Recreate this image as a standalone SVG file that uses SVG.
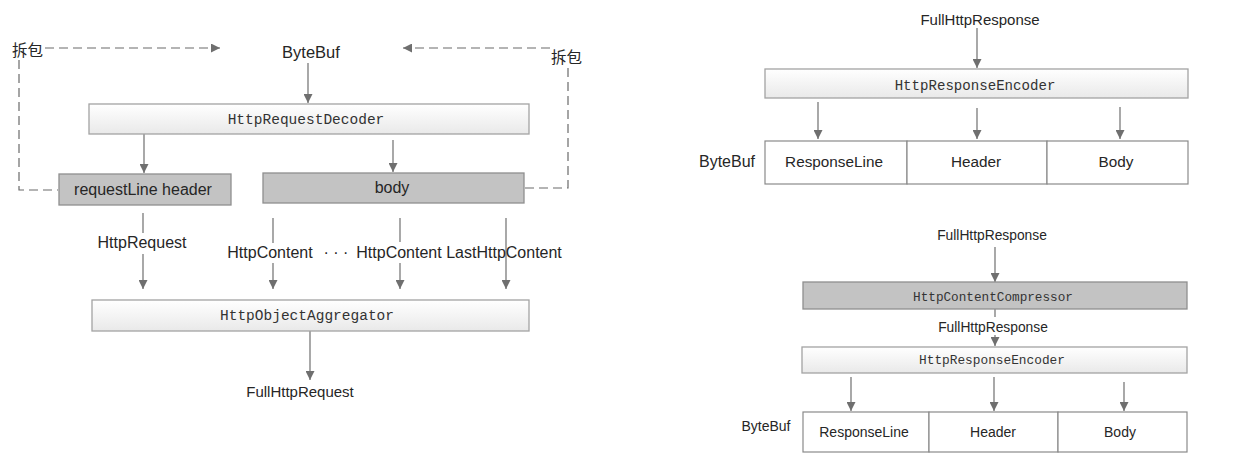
<svg xmlns="http://www.w3.org/2000/svg" width="1239" height="473" viewBox="0 0 1239 473">
<style>
.t{font-family:"Liberation Sans",Arial,sans-serif;fill:#262626;text-anchor:middle}
.m{font-family:"Liberation Mono","Courier New",monospace;fill:#333;text-anchor:middle}
.zh{font-family:"Liberation Sans","Noto Sans CJK SC",sans-serif;fill:#262626;font-size:15.5px}
.light{fill:url(#g);stroke:#a3a3a3;stroke-width:1.3}
.dark{fill:#c3c3c3;stroke:#8f8f8f;stroke-width:1.3}
.cell{fill:#fff;stroke:#8a8a8a;stroke-width:1.2}
.c{fill:none;stroke:#6f6f6f;stroke-width:1.2}
.a{fill:none;stroke:#6f6f6f;stroke-width:1.2;marker-end:url(#ah)}
.d{fill:none;stroke:#6a6a6a;stroke-width:1.2;stroke-dasharray:9,5}
.da{fill:none;stroke:#6a6a6a;stroke-width:1.2;stroke-dasharray:9,5;marker-end:url(#ah)}
</style>
<defs>
<linearGradient id="g" x1="0" y1="0" x2="0" y2="1">
<stop offset="0" stop-color="#ffffff"/>
<stop offset="1" stop-color="#e9e9e9"/>
</linearGradient>
<marker id="ah" markerUnits="userSpaceOnUse" markerWidth="10" markerHeight="9" refX="9" refY="4.5" orient="auto">
<path d="M0,0 L9,4.5 L0,9 z" fill="#6f6f6f"/>
</marker>
</defs>
<rect width="1239" height="473" fill="#fff"/>

<g id="connectors">
<path class="da" d="M45,48 H220"/>
<path class="da" d="M550,48 H403"/>
<path class="d" d="M19,60 V190 H58"/>
<path class="d" d="M568,68 V188 H524"/>
<path class="a" d="M308,63 V103"/>
<path class="a" d="M144,134 V173"/>
<path class="a" d="M393,140 V172"/>
<path class="c" d="M143,213 V233"/>
<path class="a" d="M143,254 V289"/>
<path class="c" d="M273,218 V243"/>
<path class="a" d="M273,263 V289"/>
<path class="c" d="M400,218 V242"/>
<path class="a" d="M400,263 V289"/>
<path class="a" d="M506,218 V289"/>
<path class="a" d="M310,331 V380"/>
<path class="a" d="M977,28 V68"/>
<path class="a" d="M818,102 V139"/>
<path class="a" d="M977,108 V139"/>
<path class="a" d="M1120,107 V139"/>
<path class="a" d="M995,247 V282"/>
<path class="c" d="M995,309 V317"/>
<path class="a" d="M995,335 V346"/>
<path class="a" d="M851,377 V411"/>
<path class="a" d="M994,377 V411"/>
<path class="a" d="M1124,382 V411"/>
</g>

<g id="labels-left">
<text class="zh" x="12" y="56">拆包</text>
<text class="zh" x="551" y="63">拆包</text>
<text class="t" x="311" y="58" font-size="16.5">ByteBuf</text>
<text class="t" x="142" y="248" font-size="16">HttpRequest</text>
<text class="t" x="270" y="258" font-size="16">HttpContent</text>
<text class="t" x="336" y="258" font-size="16">· · ·</text>
<text class="t" x="399" y="258" font-size="16">HttpContent</text>
<text class="t" x="504" y="258" font-size="16">LastHttpContent</text>
<text class="t" x="300" y="397" font-size="15">FullHttpRequest</text>
</g>

<g id="decoder">
<rect class="light" x="89" y="104" width="440" height="30"/>
<text class="m" x="306" y="124" font-size="14.5">HttpRequestDecoder</text>
</g>
<g id="requestLineHeader">
<rect class="dark" x="59" y="174" width="172" height="31"/>
<text class="t" x="143" y="195" font-size="16">requestLine header</text>
</g>
<g id="body">
<rect class="dark" x="263" y="173" width="261" height="30"/>
<text class="t" x="392" y="193" font-size="16">body</text>
</g>
<g id="aggregator">
<rect class="light" x="92" y="300" width="437" height="31"/>
<text class="m" x="307" y="320" font-size="14.5">HttpObjectAggregator</text>
</g>

<g id="response-top">
<text class="t" x="980" y="25" font-size="15">FullHttpResponse</text>
<rect class="light" x="765" y="69" width="423" height="29"/>
<text class="m" x="975" y="90" font-size="14.1">HttpResponseEncoder</text>
<text class="t" x="727" y="167" font-size="16">ByteBuf</text>
<g id="bytebuf-top">
<rect class="cell" x="765" y="141" width="142" height="43"/>
<rect class="cell" x="907" y="141" width="140" height="43"/>
<rect class="cell" x="1047" y="141" width="141" height="43"/>
<text class="t" x="834" y="167" font-size="15.3">ResponseLine</text>
<text class="t" x="976" y="167" font-size="15.3">Header</text>
<text class="t" x="1116" y="167" font-size="15.3">Body</text>
</g>
</g>

<g id="response-bottom">
<text class="t" x="992" y="240" font-size="13.8">FullHttpResponse</text>
<g id="compressor">
<rect class="dark" x="803" y="282" width="384" height="27"/>
<text class="m" x="993" y="301" font-size="12.7">HttpContentCompressor</text>
</g>
<text class="t" x="993" y="332" font-size="13.8">FullHttpResponse</text>
<g id="encoder2">
<rect class="light" x="802" y="347" width="385" height="26"/>
<text class="m" x="992" y="364" font-size="12.8">HttpResponseEncoder</text>
</g>
<text class="t" x="766" y="431" font-size="14">ByteBuf</text>
<g id="bytebuf-bottom">
<rect class="cell" x="803" y="412" width="126" height="40"/>
<rect class="cell" x="929" y="412" width="129" height="40"/>
<rect class="cell" x="1058" y="412" width="129" height="40"/>
<text class="t" x="864" y="437" font-size="14">ResponseLine</text>
<text class="t" x="993" y="437" font-size="14">Header</text>
<text class="t" x="1120" y="437" font-size="14">Body</text>
</g>
</g>
</svg>
